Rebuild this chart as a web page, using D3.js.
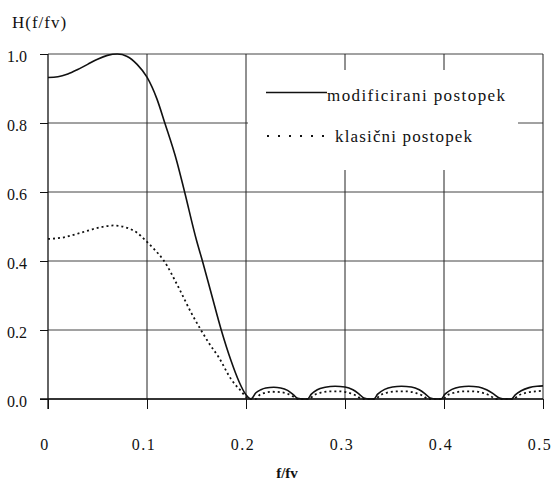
<!DOCTYPE html>
<html><head><meta charset="utf-8">
<script src="https://cdn.jsdelivr.net/npm/d3@7"></script>
<style>html,body{margin:0;padding:0;background:#fff;}svg{display:block;}</style>
</head><body>
<svg id="c" width="554" height="481"></svg>
<script>
// ---- data ----
const xTicks = [0, 0.1, 0.2, 0.3, 0.4, 0.5];
const xTickLabels = ["0", "0.1", "0.2", "0.3", "0.4", "0.5"];
const yTicks = [0, 0.2, 0.4, 0.6, 0.8, 1.0];
const yTickLabels = ["0.0", "0.2", "0.4", "0.6", "0.8", "1.0"];
const seriesNames = ["modificirani postopek", "klasični postopek"];

const modF = [0, 0.01, 0.02, 0.03, 0.04, 0.05, 0.06, 0.07, 0.08, 0.09, 0.10, 0.11, 0.118, 0.13, 0.138, 0.15, 0.156, 0.165, 0.175, 0.185, 0.193, 0.2, 0.205,
  0.21, 0.215, 0.22, 0.228, 0.235, 0.242, 0.248, 0.252, 0.258,
  0.262, 0.266, 0.272, 0.28, 0.29, 0.30, 0.308, 0.314, 0.319, 0.325,
  0.329, 0.333, 0.34, 0.348, 0.357, 0.367, 0.375, 0.381, 0.386, 0.392,
  0.397, 0.401, 0.408, 0.416, 0.425, 0.435, 0.443, 0.45, 0.456, 0.462,
  0.468, 0.472, 0.478, 0.486, 0.494, 0.5];
const modH = [0.932, 0.934, 0.942, 0.955, 0.970, 0.985, 0.996, 1.000, 0.993, 0.970, 0.933, 0.87, 0.80, 0.69, 0.60, 0.46, 0.40, 0.305, 0.20, 0.11, 0.05, 0.012, 0.0,
  0.018, 0.027, 0.032, 0.034, 0.032, 0.025, 0.012, 0.002, 0.0,
  0.0, 0.014, 0.027, 0.034, 0.037, 0.035, 0.027, 0.015, 0.003, 0.0,
  0.0, 0.014, 0.028, 0.035, 0.037, 0.035, 0.027, 0.015, 0.003, 0.0,
  0.0, 0.014, 0.028, 0.035, 0.037, 0.035, 0.027, 0.015, 0.003, 0.0,
  0.0, 0.012, 0.024, 0.033, 0.037, 0.038];

const klasF = [0, 0.015, 0.031, 0.045, 0.055, 0.066, 0.081, 0.09, 0.098, 0.107, 0.1165, 0.1316, 0.145, 0.1545, 0.163, 0.172, 0.1855, 0.1956, 0.2, 0.205,
  0.21, 0.213, 0.218, 0.226, 0.235, 0.243, 0.249, 0.253,
  0.264, 0.268, 0.275, 0.285, 0.295, 0.305, 0.312, 0.317,
  0.331, 0.335, 0.342, 0.352, 0.362, 0.372, 0.379, 0.384,
  0.399, 0.403, 0.41, 0.42, 0.43, 0.44, 0.447, 0.452,
  0.47, 0.475, 0.483, 0.492, 0.5];
const klasH = [0.464, 0.468, 0.480, 0.492, 0.499, 0.503, 0.495, 0.482, 0.461, 0.435, 0.403, 0.325, 0.248, 0.20, 0.16, 0.123, 0.055, 0.021, 0.006, 0.0,
  0.0, 0.010, 0.017, 0.021, 0.020, 0.014, 0.005, 0.0,
  0.0, 0.010, 0.018, 0.022, 0.022, 0.017, 0.009, 0.0,
  0.0, 0.010, 0.018, 0.022, 0.022, 0.017, 0.009, 0.0,
  0.0, 0.010, 0.018, 0.022, 0.022, 0.017, 0.009, 0.0,
  0.0, 0.010, 0.018, 0.022, 0.024];

// ---- chart ----
const svg = d3.select("#c");
const FONT = "'Liberation Serif','Times New Roman',serif";
const x = d3.scaleLinear().domain([0, 0.5]).range([48, 543]);
const y = d3.scaleLinear().domain([0, 1]).range([399, 54]);

const g = svg.append("g");
// horizontal gridlines
g.selectAll(".hg").data(yTicks).join("line")
  .attr("x1", x(0)).attr("x2", x(0.5))
  .attr("y1", d => y(d)).attr("y2", d => y(d))
  .attr("stroke", "#444").attr("stroke-width", 1);
// vertical gridlines
g.selectAll(".vg").data(xTicks.slice(1)).join("line")
  .attr("x1", d => x(d)).attr("x2", d => x(d))
  .attr("y1", y(1)).attr("y2", y(0))
  .attr("stroke", "#222").attr("stroke-width", 1);

// legend background (white box hides gridlines)
svg.append("rect").attr("x", 248).attr("y", 70).attr("width", 270).attr("height", 100).attr("fill", "#fff");

// axes
const yAxis = d3.axisLeft(y).tickValues(yTicks).tickSize(8).tickFormat("");
const ya = svg.append("g").attr("transform", `translate(${x(0)},0)`).call(yAxis);
ya.select(".domain").remove();
ya.selectAll(".tick line").attr("stroke", "#111");
const xAxis = d3.axisBottom(x).tickValues(xTicks).tickSize(10).tickFormat("");
const xa = svg.append("g").attr("transform", `translate(0,${y(0)})`).call(xAxis);
xa.select(".domain").remove();
xa.selectAll(".tick line").attr("stroke", "#111");
svg.append("line").attr("x1", x(0)).attr("x2", x(0)).attr("y1", y(1)).attr("y2", y(0) + 10)
  .attr("stroke", "#111").attr("stroke-width", 1.3);
svg.append("line").attr("x1", x(0) - 8).attr("x2", x(0.5)).attr("y1", y(0)).attr("y2", y(0))
  .attr("stroke", "#111").attr("stroke-width", 1.3);

// tick labels
svg.selectAll(".yl").data(yTicks).join("text")
  .attr("x", 27).attr("y", d => y(d) + 8)
  .attr("text-anchor", "end").attr("font-family", FONT).attr("font-size", 16).attr("fill", "#111")
  .text((d, i) => yTickLabels[i]);
svg.selectAll(".xl").data(xTicks).join("text")
  .attr("x", d => x(d) - 3).attr("y", 450)
  .attr("text-anchor", "middle").attr("font-family", FONT).attr("font-size", 16).attr("letter-spacing", 1.5).attr("fill", "#111")
  .text((d, i) => xTickLabels[i]);

svg.append("text").attr("x", 12).attr("y", 28).attr("font-family", FONT).attr("font-size", 17)
  .attr("letter-spacing", 1).attr("fill", "#111").text("H(f/fv)");
svg.append("text").attr("x", 287).attr("y", 478).attr("text-anchor", "middle").attr("font-family", FONT)
  .attr("font-size", 15).attr("font-weight", "bold").attr("fill", "#111").text("f/fv");

// curves
const line = d3.line().x(d => x(d[0])).y(d => y(d[1])).curve(d3.curveMonotoneX);
svg.append("path").datum(modF.map((f, i) => [f, modH[i]]))
  .attr("d", line).attr("fill", "none").attr("stroke", "#111").attr("stroke-width", 1.6);
svg.append("path").datum(klasF.map((f, i) => [f, klasH[i]]))
  .attr("d", line).attr("fill", "none").attr("stroke", "#111").attr("stroke-width", 1.8)
  .attr("stroke-dasharray", "2,3");

// legend
svg.append("line").attr("x1", 266).attr("x2", 327).attr("y1", 92.5).attr("y2", 92.5)
  .attr("stroke", "#111").attr("stroke-width", 1.4);
svg.append("text").attr("x", 327).attr("y", 101).attr("font-family", FONT).attr("font-size", 17)
  .attr("textLength", 178).attr("lengthAdjust", "spacing").attr("fill", "#111").text(seriesNames[0]);
svg.append("line").attr("x1", 267).attr("x2", 333).attr("y1", 136).attr("y2", 136)
  .attr("stroke", "#111").attr("stroke-width", 1.8).attr("stroke-dasharray", "2,9");
svg.append("text").attr("x", 335).attr("y", 142).attr("font-family", FONT).attr("font-size", 17)
  .attr("textLength", 137).attr("lengthAdjust", "spacing").attr("fill", "#111").text(seriesNames[1]);
</script>
</body></html>
